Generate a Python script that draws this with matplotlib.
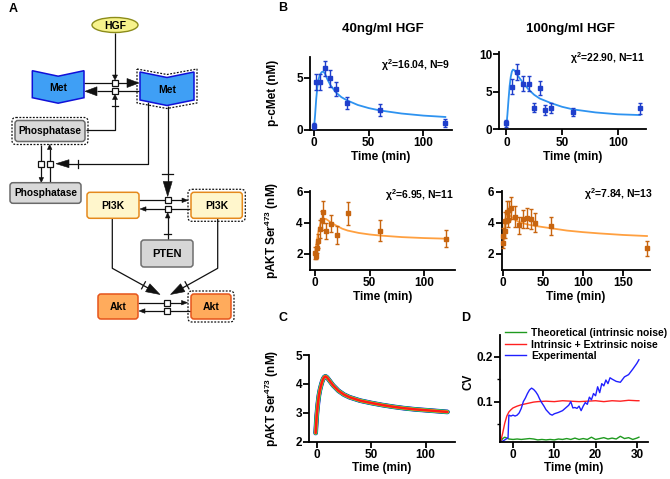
import matplotlib
matplotlib.use('Agg')
import matplotlib.pyplot as plt
from matplotlib.patches import Polygon, FancyBboxPatch, Ellipse, Rectangle
import numpy as np

plt.rcParams['font.family'] = ['Liberation Sans', 'DejaVu Sans']
plt.rcParams['font.weight'] = 'bold'
plt.rcParams['mathtext.fontset'] = 'custom'
plt.rcParams['mathtext.rm'] = 'Liberation Sans:bold'
plt.rcParams['mathtext.it'] = 'Liberation Sans:bold'
plt.rcParams['mathtext.bf'] = 'Liberation Sans:bold'
plt.rcParams['mathtext.default'] = 'rm'

# ---------------- data ----------------
# B top-left: p-cMet, 40 ng/ml HGF
met40_t = [0, 2, 5, 10, 15, 20, 30, 60, 120]
met40_y = [0.38, 4.6, 4.6, 5.9, 4.95, 3.9, 2.6, 1.9, 0.64]
met40_e = [0.3, 0.75, 0.75, 0.75, 0.8, 0.67, 0.55, 0.55, 0.38]
met40_fit_t = [0, 1, 2, 3, 4, 5, 6, 7, 8, 9, 10, 12, 15, 20, 25, 30, 40, 50, 60, 80, 100, 120]
met40_fit_y = [0.2, 1.5, 3.0, 4.1, 4.8, 5.2, 5.4, 5.55, 5.6, 5.55, 5.4, 4.9, 4.3, 3.6, 3.15, 2.85, 2.4, 2.1, 1.88, 1.58, 1.38, 1.25]

# B top-right: p-cMet, 100 ng/ml HGF
met100_t = [0, 5, 10, 15, 20, 25, 30, 35, 40, 60, 120]
met100_y = [0.8, 5.7, 7.6, 6.1, 6.1, 2.9, 5.5, 2.6, 2.8, 2.3, 2.8]
met100_e = [0.5, 1.0, 1.05, 1.0, 1.0, 0.6, 0.9, 0.65, 0.65, 0.55, 0.7]
met100_fit_t = [0, 1, 2, 3, 4, 5, 6, 7, 8, 10, 12, 15, 20, 25, 30, 40, 50, 60, 80, 100, 120]
met100_fit_y = [0.3, 2.0, 4.0, 5.8, 7.0, 7.7, 7.95, 7.9, 7.7, 7.2, 6.8, 6.2, 5.3, 4.6, 4.1, 3.5, 3.0, 2.65, 2.25, 2.0, 1.9]

# B bottom-left: pAKT, 40 ng/ml HGF
akt40_t = [0, 0.5, 1.5, 2.5, 5, 6, 7.5, 10, 15, 20, 30, 60, 120]
akt40_y = [2.05, 1.85, 2.35, 2.8, 3.6, 4.15, 4.7, 3.47, 3.95, 3.22, 4.6, 3.5, 2.98]
akt40_e = [0.38, 0.2, 0.3, 0.45, 0.6, 0.6, 0.72, 0.5, 0.55, 0.55, 0.72, 0.65, 0.53]
akt40_fit_t = [0, 1, 2, 3, 4, 5, 6, 7, 8, 10, 12, 15, 20, 25, 30, 40, 50, 60, 80, 100, 120]
akt40_fit_y = [1.9, 2.5, 3.0, 3.4, 3.7, 3.95, 4.1, 4.2, 4.25, 4.25, 4.15, 4.0, 3.8, 3.62, 3.5, 3.35, 3.25, 3.18, 3.08, 3.02, 2.98]

# B bottom-right: pAKT, 100 ng/ml HGF
akt100_t = [0, 0.5, 2, 3, 5, 6, 7.5, 10, 15, 20, 25, 30, 35, 40, 60, 180]
akt100_y = [3.15, 2.7, 4.1, 3.5, 4.7, 4.2, 4.8, 4.95, 4.4, 3.85, 4.25, 4.3, 4.25, 4.0, 3.8, 2.35]
akt100_e = [0.5, 0.3, 0.6, 0.5, 0.7, 0.5, 0.6, 0.7, 0.65, 0.55, 0.6, 0.65, 0.65, 0.6, 0.6, 0.45]
akt100_fit_t = [0, 1, 2, 3, 4, 5, 6, 8, 10, 15, 20, 30, 40, 60, 80, 100, 120, 150, 180]
akt100_fit_y = [2.4, 3.3, 3.9, 4.25, 4.45, 4.55, 4.55, 4.5, 4.4, 4.2, 4.05, 3.9, 3.8, 3.65, 3.5, 3.4, 3.32, 3.22, 3.15]

# C: simulated pAKT traces
sim_t = [-1, 0, 1, 2, 3, 4, 5, 6, 7, 8, 9, 10, 12, 15, 20, 25, 30, 40, 50, 60, 70, 80, 90, 100, 110, 120]
sim_y = [2.3, 2.9, 3.3, 3.6, 3.8, 3.95, 4.08, 4.18, 4.24, 4.26, 4.24, 4.2, 4.1, 3.95, 3.76, 3.63, 3.54, 3.42, 3.34, 3.27, 3.21, 3.16, 3.12, 3.09, 3.06, 3.03]
sim_colors = ['#1f1fff', '#19a019', '#00c8c8', '#d8d800', '#ff1a1a']

# D: coefficient of variation
cv_green_t = [-3, -2.5, -2, -1.5, -1, 0, 1, 2, 3, 4, 5, 6, 7, 8, 9, 10, 11, 12, 13, 14, 15, 16, 17, 18, 19, 20, 21, 22, 23, 24, 25, 26, 27, 28, 29, 30, 30.5]
cv_green = [0.011, 0.018, 0.021, 0.019, 0.017, 0.016, 0.017, 0.016, 0.017, 0.018, 0.017, 0.015, 0.016, 0.015, 0.016, 0.015, 0.017, 0.016, 0.018, 0.016, 0.019, 0.016, 0.018, 0.016, 0.021, 0.016, 0.018, 0.02, 0.017, 0.019, 0.017, 0.023, 0.018, 0.02, 0.016, 0.019, 0.021]
cv_red_t = [-3, -2.5, -2, -1.5, -1, -0.5, 0, 1, 2, 3, 4, 5, 6, 8, 10, 12, 14, 16, 18, 20, 22, 24, 26, 28, 30, 30.5]
cv_red = [0.011, 0.03, 0.052, 0.068, 0.077, 0.082, 0.086, 0.09, 0.093, 0.095, 0.097, 0.099, 0.1, 0.101, 0.1, 0.102, 0.101, 0.1, 0.101, 0.102, 0.1, 0.102, 0.101, 0.103, 0.102, 0.102]
cv_blue_t = [-3.0, -2.5, -2.0, -1.5, -1.2, -1.0, -0.5, 0, 0.5, 1, 1.5, 2, 2.5, 3, 3.5, 4, 4.5, 5, 5.5, 6, 6.5, 7, 7.5, 8, 8.5, 9, 9.5, 10, 11, 12, 13, 13.5, 14, 14.5, 15, 15.5, 16, 16.5, 17, 17.5, 18, 18.5, 19, 19.5, 20, 20.5, 21, 21.5, 22, 22.5, 23, 23.5, 24, 25, 26, 27, 28, 29, 30, 30.5]
cv_blue = [0.011, 0.012, 0.015, 0.018, 0.02, 0.07, 0.068, 0.07, 0.068, 0.07, 0.075, 0.085, 0.1, 0.108, 0.118, 0.126, 0.13, 0.127, 0.122, 0.115, 0.105, 0.097, 0.09, 0.082, 0.077, 0.072, 0.07, 0.073, 0.076, 0.08, 0.088, 0.092, 0.1, 0.086, 0.087, 0.085, 0.09, 0.08, 0.09, 0.098, 0.094, 0.11, 0.104, 0.118, 0.113, 0.133, 0.12, 0.14, 0.135, 0.148, 0.14, 0.153, 0.15, 0.145, 0.143, 0.155, 0.16, 0.172, 0.185, 0.193]
cv_labels = ['Theoretical (intrinsic noise)', 'Intrinsic + Extrinsic noise', 'Experimental']

# ---------------- figure ----------------
W, H = 670, 479
fig = plt.figure(figsize=(6.7, 4.79), dpi=100)


def px_axes(x0, y_top, x1, y_bot):
    return fig.add_axes([x0 / W, 1 - y_bot / H, (x1 - x0) / W, (y_bot - y_top) / H])


def ftext(x, y, s, **kw):
    fig.text(x / W, 1 - y / H, s, **kw)


def style(ax):
    for s in ['top', 'right']:
        ax.spines[s].set_visible(False)
    for s in ['left', 'bottom']:
        ax.spines[s].set_linewidth(1.3)
    ax.tick_params(width=1.3, length=4, labelsize=8.5, pad=1.2)


# ---------------- panel A (schematic) ----------------
ax0 = fig.add_axes([0, 0, 1, 1])
ax0.set_xlim(0, W)
ax0.set_ylim(H, 0)
ax0.axis('off')

LW = 0.9
K = '#111111'


def line(pts):
    xs, ys = zip(*pts)
    ax0.plot(xs, ys, color=K, lw=LW, solid_capstyle='butt', zorder=2)


def head(tip, frm, L, Wd):
    tx, ty = tip
    dx, dy = tx - frm[0], ty - frm[1]
    n = np.hypot(dx, dy)
    dx, dy = dx / n, dy / n
    bx, by = tx - dx * L, ty - dy * L
    nx, ny = -dy, dx
    ax0.add_patch(Polygon([(tx, ty), (bx + nx * Wd / 2, by + ny * Wd / 2), (bx - nx * Wd / 2, by - ny * Wd / 2)],
                          closed=True, fc=K, ec=K, lw=0.4, zorder=3))


def tick(p, frm, half=4):
    dx, dy = p[0] - frm[0], p[1] - frm[1]
    n = np.hypot(dx, dy)
    nx, ny = -dy / n, dx / n
    ax0.plot([p[0] - nx * half, p[0] + nx * half], [p[1] - ny * half, p[1] + ny * half], color=K, lw=LW, zorder=3)


def square(cx, cy, s=6):
    ax0.add_patch(Rectangle((cx - s / 2, cy - s / 2), s, s, fc='white', ec=K, lw=0.9, zorder=4))


def rbox(x0, y0, x1, y1, fc, ec, text, dashed=False, fs=7.5):
    ax0.add_patch(FancyBboxPatch((x0, y0), x1 - x0, y1 - y0, boxstyle='round,pad=0,rounding_size=3',
                                 fc=fc, ec=ec, lw=1.1, zorder=4))
    if dashed:
        ax0.add_patch(FancyBboxPatch((x0 - 3, y0 - 3), x1 - x0 + 6, y1 - y0 + 6,
                                     boxstyle='round,pad=0,rounding_size=4', fc='none', ec=K,
                                     lw=0.9, ls=(0, (1.5, 1.2)), zorder=4))
    ax0.text((x0 + x1) / 2, (y0 + y1) / 2 + 0.5, text, ha='center', va='center', fontsize=fs,
             fontweight='bold', zorder=5)


def met(x0, x1, ytop, ybot, dip, dashed=False):
    xm = (x0 + x1) / 2
    pts = [(x0, ytop), (xm, ytop + dip), (x1, ytop), (x1, ybot), (xm, ybot + dip), (x0, ybot)]
    ax0.add_patch(Polygon(pts, closed=True, fc='#3f9ff5', ec='#1010d8', lw=1.1, zorder=4))
    if dashed:
        o = 3
        pts2 = [(x0 - o, ytop - o), (xm, ytop + dip - o), (x1 + o, ytop - o), (x1 + o, ybot + o),
                (xm, ybot + dip + o), (x0 - o, ybot + o)]
        ax0.add_patch(Polygon(pts2, closed=True, fc='none', ec=K, lw=0.9, ls=(0, (1.5, 1.2)), zorder=4))
    ax0.text(xm, (ytop + ybot) / 2 + dip / 2 + 1, 'Met', ha='center', va='center', fontsize=7.5,
             fontweight='bold', zorder=5)


# nodes
ax0.add_patch(Ellipse((115, 25), 46, 15, fc='#f7f38c', ec='#8c8c1a', lw=1.0, zorder=4))
ax0.text(115, 25.5, 'HGF', ha='center', va='center', fontsize=7.5, fontweight='bold', zorder=5)
met(32.3, 84, 70.7, 97.7, 5.5)
met(140, 194, 72, 100, 5.5, dashed=True)
rbox(15, 120.5, 85, 141.5, '#d9d9d9', '#6a6a6a', 'Phosphatase', dashed=True, fs=7.3)
rbox(10, 182.7, 81, 203.3, '#d9d9d9', '#6a6a6a', 'Phosphatase', fs=7.3)
rbox(87, 192.3, 139, 218.3, '#fff6cc', '#e5891c', 'PI3K')
rbox(191, 192.3, 242.3, 218.3, '#fff6cc', '#e5891c', 'PI3K', dashed=True)
rbox(141, 240, 193, 267, '#d6d6d6', '#6e6e6e', 'PTEN', fs=8)
rbox(98, 294, 138, 319, '#ffab5c', '#e6541a', 'Akt')
rbox(191, 294, 231, 319, '#ffab5c', '#e6541a', 'Akt', dashed=True)

# Met activation
line([(84, 83), (128, 83)]); head((139, 83), (84, 83), 12, 9)
line([(140, 91.3), (97, 91.3)]); head((85, 91.3), (140, 91.3), 12, 9)
line([(115, 32.5), (115, 77)]); head((115, 80), (115, 70), 5, 5)
line([(86, 130), (115, 130), (115, 98)]); head((115, 94.5), (115, 104), 5, 5); tick((115, 106), (115, 120), 3)
square(115, 83); square(115, 91.3)

# Met -> phosphatase
line([(148, 102), (148, 163.7), (68, 163.7)]); head((56, 163.7), (90, 163.7), 13, 8); tick((78, 163.7), (90, 163.7), 4)
line([(41.3, 144.5), (41.3, 178)]); head((41.3, 182.5), (41.3, 170), 5, 4.5)
line([(49.7, 182.7), (49.7, 149)]); head((49.7, 144.5), (49.7, 160), 5, 4.5)
square(41.3, 163.7); square(49.7, 163.7)

# Met -> PI3K
line([(167.7, 106), (167.7, 183)]); head((167.7, 196.5), (167.7, 180), 15, 9); tick((167.7, 174), (167.7, 160), 5.5)
line([(139, 200.3), (183, 200.3)]); head((188, 200.3), (170, 200.3), 6, 4.5)
line([(191, 209), (145, 209)]); head((140, 209), (160, 209), 6, 4.5)
line([(167.7, 240), (167.7, 217)]); head((167.7, 212.5), (167.7, 225), 5.5, 4.5); tick((167.7, 234), (167.7, 240), 3.5)
square(167.7, 200.3); square(167.7, 209)

# PI3K -> Akt
pL = [(112.3, 218.3), (112.3, 268.3), (160, 294.5)]
line(pL[:2] + [(148, 288)]); head(pL[2], pL[1], 14, 9); tick((143.5, 285.3), pL[1], 4)
pR = [(217.7, 218.3), (217.7, 268.3), (170.5, 294.5)]
line(pR[:2] + [(182.5, 288)]); head(pR[2], pR[1], 14, 9); tick((187, 285.3), pR[1], 4)
line([(138, 302.7), (182, 302.7)]); head((187.5, 302.7), (170, 302.7), 6, 4.5)
line([(191, 311), (144, 311)]); head((139, 311), (160, 311), 6, 4.5)
square(167.3, 302.7); square(167.3, 311)

# ---------------- panel B ----------------
BLUE_PT = '#1f3fcc'
BLUE_FIT = '#2e93f0'
OR_PT = '#c8650f'
OR_FIT = '#ffa040'


def data_panel(ax, t, y, e, ft, fy, cpt, cfit):
    ax.plot(ft, fy, color=cfit, lw=1.3, zorder=2)
    ax.errorbar(t, y, yerr=e, fmt='s', ms=2.5, color=cpt, ecolor=cpt, elinewidth=1.0,
                capsize=1.5, capthick=1.0, zorder=3, clip_on=False)
    style(ax)


ax1 = px_axes(310, 57, 452, 130)
data_panel(ax1, met40_t, met40_y, met40_e, met40_fit_t, met40_fit_y, BLUE_PT, BLUE_FIT)
ax1.set_xlim(-3.7, 126.1); ax1.set_ylim(0, 7)
ax1.set_xticks([0, 50, 100]); ax1.set_yticks([0, 5])

ax2 = px_axes(499.3, 52, 646, 129.3)
data_panel(ax2, met100_t, met100_y, met100_e, met100_fit_t, met100_fit_y, BLUE_PT, BLUE_FIT)
ax2.set_xlim(-6.3, 125.4); ax2.set_ylim(0, 10.3)
ax2.set_xticks([0, 50, 100]); ax2.set_yticks([0, 5, 10])

ax3 = px_axes(310, 191, 455, 270)
data_panel(ax3, akt40_t, akt40_y, akt40_e, akt40_fit_t, akt40_fit_y, OR_PT, OR_FIT)
ax3.set_xlim(-4.6, 128.4); ax3.set_ylim(0.97, 6.04)
ax3.set_xticks([0, 50, 100]); ax3.set_yticks([2, 4, 6])

ax4 = px_axes(501.7, 191, 650, 270)
data_panel(ax4, akt100_t, akt100_y, akt100_e, akt100_fit_t, akt100_fit_y, OR_PT, OR_FIT)
ax4.set_xlim(-1.6, 183.8); ax4.set_ylim(0.97, 6.04)
ax4.set_xticks([0, 50, 100, 150]); ax4.set_yticks([2, 4, 6])

# ---------------- panel C ----------------
ax5 = px_axes(309.3, 355, 455, 441.7)
for c, lw in zip(sim_colors, [3.4, 3.0, 2.6, 2.2, 1.8]):
    ax5.plot(sim_t, sim_y, color=c, lw=lw, solid_capstyle='round')
style(ax5)
ax5.set_xlim(-6.8, 126.9); ax5.set_ylim(2, 5)
ax5.set_xticks([0, 50, 100]); ax5.set_yticks([2, 3, 4, 5])

# ---------------- panel D ----------------
ax6 = px_axes(500, 335, 648, 441.7)
h1, = ax6.plot(cv_green_t, cv_green, color='#1f9a1f', lw=1.0)
h2, = ax6.plot(cv_red_t, cv_red, color='#ff2020', lw=1.0)
h3, = ax6.plot(cv_blue_t, cv_blue, color='#2020ff', lw=1.0)
style(ax6)
ax6.set_xlim(-3.15, 32.7); ax6.set_ylim(0.011, 0.248)
ax6.set_xticks([0, 10, 20, 30]); ax6.set_yticks([0.1, 0.2])
ax6.set_yticks([0.05, 0.15], minor=True)
ax6.tick_params(which='minor', length=2.5, width=1.0)
ax6.set_yticklabels(['0.1', '0.2'])
fig.legend([h1, h2, h3], cv_labels, loc='upper left', bbox_to_anchor=(505 / W, 1 - 328 / H),
           frameon=False, handlelength=2.0, handletextpad=0.5, labelspacing=0.15,
           borderpad=0, borderaxespad=0, prop={'weight': 'bold', 'size': 7.5})

# ---------------- texts ----------------
FS = 8.5
ftext(13, 9, 'A', fontsize=9, fontweight='bold', ha='center', va='center')
ftext(283, 8, 'B', fontsize=9, fontweight='bold', ha='center', va='center')
ftext(283, 318, 'C', fontsize=9, fontweight='bold', ha='center', va='center')
ftext(466, 318, 'D', fontsize=9, fontweight='bold', ha='center', va='center')

ftext(383, 29, '40ng/ml HGF', fontsize=9.5, fontweight='bold', ha='center', va='center')
ftext(571, 29, '100ng/ml HGF', fontsize=9.5, fontweight='bold', ha='center', va='center')

CFS = 7.5
ftext(450, 65, 'χ$^{2}$=16.04, N=9', fontsize=CFS, fontweight='bold', ha='right', va='center')
ftext(645, 58, 'χ$^{2}$=22.90, N=11', fontsize=CFS, fontweight='bold', ha='right', va='center')
ftext(454, 195, 'χ$^{2}$=6.95, N=11', fontsize=CFS, fontweight='bold', ha='right', va='center')
ftext(653, 194, 'χ$^{2}$=7.84, N=13', fontsize=CFS, fontweight='bold', ha='right', va='center')

for xc, yc in [(381, 157), (573, 157), (382.5, 297), (576, 297), (382, 468), (574, 468)]:
    ftext(xc, yc, 'Time (min)', fontsize=FS, fontweight='bold', ha='center', va='center')

ftext(273, 93, 'p-cMet (nM)', fontsize=FS, fontweight='bold', ha='center', va='center', rotation=90)
ftext(272, 230, 'pAKT Ser$^{473}$ (nM)', fontsize=FS, fontweight='bold', ha='center', va='center', rotation=90)
ftext(272, 398, 'pAKT Ser$^{473}$ (nM)', fontsize=FS, fontweight='bold', ha='center', va='center', rotation=90)
ftext(468, 382, 'CV', fontsize=FS, fontweight='bold', ha='center', va='center', rotation=90)

fig.savefig('out.png', dpi=100)
